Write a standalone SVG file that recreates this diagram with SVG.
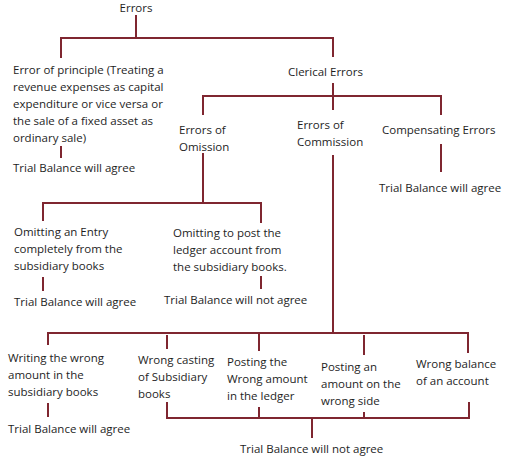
<svg xmlns="http://www.w3.org/2000/svg" width="527" height="470" viewBox="0 0 527 470">
<style>
text{font-family:"Open Sans","Noto Sans",sans-serif;font-size:11.5px;fill:#1e1e1e}
.c line{stroke:#7f2630;stroke-width:2;stroke-linecap:butt}
</style>
<rect width="527" height="470" fill="#fff"/>
<g class="c" id="connectors">
<line x1="136" y1="15" x2="136" y2="38"/>
<line x1="60" y1="38" x2="334" y2="38"/>
<line x1="61" y1="37" x2="61" y2="58"/>
<line x1="333" y1="37" x2="333" y2="57"/>
<line x1="61" y1="146" x2="61" y2="158"/>
<line x1="333" y1="83" x2="333" y2="110"/>
<line x1="202" y1="96" x2="442" y2="96"/>
<line x1="203" y1="95" x2="203" y2="115"/>
<line x1="441" y1="95" x2="441" y2="115"/>
<line x1="441" y1="144" x2="441" y2="172"/>
<line x1="203" y1="153" x2="203" y2="203"/>
<line x1="42" y1="203" x2="262" y2="203"/>
<line x1="43" y1="202" x2="43" y2="221"/>
<line x1="261" y1="202" x2="261" y2="223"/>
<line x1="43" y1="277" x2="43" y2="291"/>
<line x1="261" y1="276" x2="261" y2="289"/>
<line x1="333" y1="155" x2="333" y2="333"/>
<line x1="47" y1="333" x2="469" y2="333"/>
<line x1="48" y1="332" x2="48" y2="345"/>
<line x1="167" y1="335" x2="167" y2="349"/>
<line x1="259" y1="332" x2="259" y2="351"/>
<line x1="364" y1="335" x2="364" y2="355"/>
<line x1="468" y1="332" x2="468" y2="353"/>
<line x1="48" y1="403" x2="48" y2="417"/>
<line x1="166" y1="418" x2="470" y2="418"/>
<line x1="167" y1="402" x2="167" y2="419"/>
<line x1="259" y1="407" x2="259" y2="419"/>
<line x1="364" y1="412" x2="364" y2="419"/>
<line x1="469" y1="402" x2="469" y2="419"/>
<line x1="312" y1="418" x2="312" y2="438"/>
</g>
<g id="n-errors"><text x="136" y="12" text-anchor="middle">Errors</text></g>
<g id="n-principle">
<text x="13" y="74">Error of principle (Treating a</text>
<text x="13" y="91">revenue expenses as capital</text>
<text x="13" y="108">expenditure or vice versa or</text>
<text x="13" y="125">the sale of a fixed asset as</text>
<text x="13" y="142">ordinary sale)</text>
</g>
<g id="n-principle-tb"><text x="13" y="172">Trial Balance will agree</text></g>
<g id="n-clerical"><text x="288" y="76">Clerical Errors</text></g>
<g id="n-omission"><text x="179" y="134">Errors of</text><text x="179" y="151">Omission</text></g>
<g id="n-commission"><text x="297" y="129">Errors of</text><text x="297" y="146">Commission</text></g>
<g id="n-compensating"><text x="382" y="134">Compensating Errors</text></g>
<g id="n-compensating-tb"><text x="379" y="192">Trial Balance will agree</text></g>
<g id="n-omit-entry">
<text x="14" y="236">Omitting an Entry</text>
<text x="14" y="253">completely from the</text>
<text x="14" y="270">subsidiary books</text>
</g>
<g id="n-omit-entry-tb"><text x="14" y="306">Trial Balance will agree</text></g>
<g id="n-omit-post">
<text x="173" y="237">Omitting to post the</text>
<text x="173" y="254">ledger account from</text>
<text x="173" y="271">the subsidiary books.</text>
</g>
<g id="n-omit-post-tb"><text x="164" y="304">Trial Balance will not agree</text></g>
<g id="n-writing">
<text x="8" y="362">Writing the wrong</text>
<text x="8" y="379">amount in the</text>
<text x="8" y="396">subsidiary books</text>
</g>
<g id="n-writing-tb"><text x="8" y="433">Trial Balance will agree</text></g>
<g id="n-casting">
<text x="138" y="364">Wrong casting</text>
<text x="138" y="381">of Subsidiary</text>
<text x="138" y="398">books</text>
</g>
<g id="n-posting-amount">
<text x="227" y="366">Posting the</text>
<text x="227" y="383">Wrong amount</text>
<text x="227" y="400">in the ledger</text>
</g>
<g id="n-posting-side">
<text x="321" y="371">Posting an</text>
<text x="321" y="388">amount on the</text>
<text x="321" y="405">wrong side</text>
</g>
<g id="n-balance">
<text x="416" y="368">Wrong balance</text>
<text x="416" y="385">of an account</text>
</g>
<g id="n-commission-tb"><text x="240" y="453">Trial Balance will not agree</text></g>
</svg>
